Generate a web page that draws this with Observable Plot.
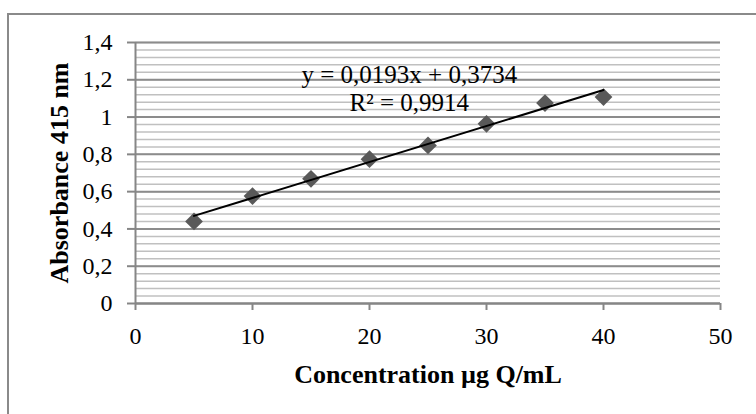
<!DOCTYPE html>
<html>
<head>
<meta charset="utf-8">
<script src="https://cdn.jsdelivr.net/npm/d3@7"></script>
<script src="https://cdn.jsdelivr.net/npm/@observablehq/plot@0.6"></script>
<style>
  html, body { margin: 0; padding: 0; background: #fff; }
  #wrap { position: relative; width: 756px; height: 414px; overflow: hidden; }
  #frame { position: absolute; left: 7px; top: 13px; width: 800px; height: 450px;
           border-top: 2px solid #8a8a8a; border-left: 2px solid #8a8a8a; box-sizing: border-box; }
  #chart { position: absolute; left: 0; top: 0; }
</style>
</head>
<body>
<div id="wrap"><div id="frame"></div><div id="chart"></div></div>
<script>
// Data
const concentration = [5, 10, 15, 20, 25, 30, 35, 40];
const absorbance = [0.44, 0.576, 0.669, 0.774, 0.848, 0.964, 1.075, 1.107];

// Linear trendline from the chart label
const slope = 0.0193;
const intercept = 0.3734;
const trendRange = [5, 40];
const equationText = "y = 0,0193x + 0,3734";
const r2Text = "R² = 0,9914";
const labelPos = {x: 23.4, y: 1.035};

// Axes
const xTicks = [0, 10, 20, 30, 40, 50];
const yTicks = [0, 0.2, 0.4, 0.6, 0.8, 1.0, 1.2, 1.4];
const yMinorTicks = d3.range(0, 1.4001, 0.04);
const xLabel = "Concentration µg Q/mL";
const yLabel = "Absorbance 415 nm";

const points = concentration.map((c, i) => ({x: c, y: absorbance[i]}));
const trend = trendRange.map(x => ({x, y: slope * x + intercept}));
const fmt = d => String(d).replace(".", ",");

const chart = Plot.plot({
  width: 756,
  height: 414,
  marginLeft: 135,
  marginRight: 36,
  marginTop: 42,
  marginBottom: 111,
  style: {fontFamily: "'Liberation Serif', 'Times New Roman', serif", fontSize: "24px", background: "transparent", color: "#000"},
  x: {domain: [0, 50]},
  y: {domain: [0, 1.4]},
  marks: [
    Plot.ruleY(yMinorTicks, {stroke: "#c0c0c0", strokeWidth: 1.5}),
    Plot.ruleY(yTicks, {stroke: "#8c8c8c", strokeWidth: 2}),
    Plot.ruleX([0], {stroke: "#868686", strokeWidth: 2}),
    Plot.ruleY([0], {stroke: "#868686", strokeWidth: 2}),
    Plot.axisX({ticks: xTicks, tickSize: 7, tickPadding: 16, tickFormat: fmt, stroke: "#868686", strokeWidth: 2, fill: "#000", label: null, fontSize: 24}),
    Plot.axisY({ticks: yTicks, tickSize: 8, tickPadding: 15, tickFormat: fmt, stroke: "#868686", strokeWidth: 2, fill: "#000", label: null, fontSize: 24}),
    Plot.dot(points, {x: "x", y: "y", symbol: "diamond2", r: 8, fill: "#595959", stroke: "none"}),
    Plot.line(trend, {x: "x", y: "y", stroke: "#000", strokeWidth: 2}),
    Plot.text([equationText + "\n" + r2Text], {x: () => labelPos.x, y: () => labelPos.y, text: d => d, textAnchor: "middle", lineAnchor: "bottom", lineHeight: 1.11, fontSize: 25, fill: "#000"}),
    Plot.text([xLabel], {frameAnchor: "bottom", dy: 79, text: d => d, textAnchor: "middle", lineAnchor: "bottom", fontSize: 26, fontWeight: "bold", fill: "#000"}),
    Plot.text([yLabel], {frameAnchor: "left", dx: -68, rotate: -90, text: d => d, textAnchor: "middle", lineAnchor: "bottom", fontSize: 26, fontWeight: "bold", fill: "#000"})
  ]
});
document.getElementById("chart").appendChild(chart);
</script>
</body>
</html>
